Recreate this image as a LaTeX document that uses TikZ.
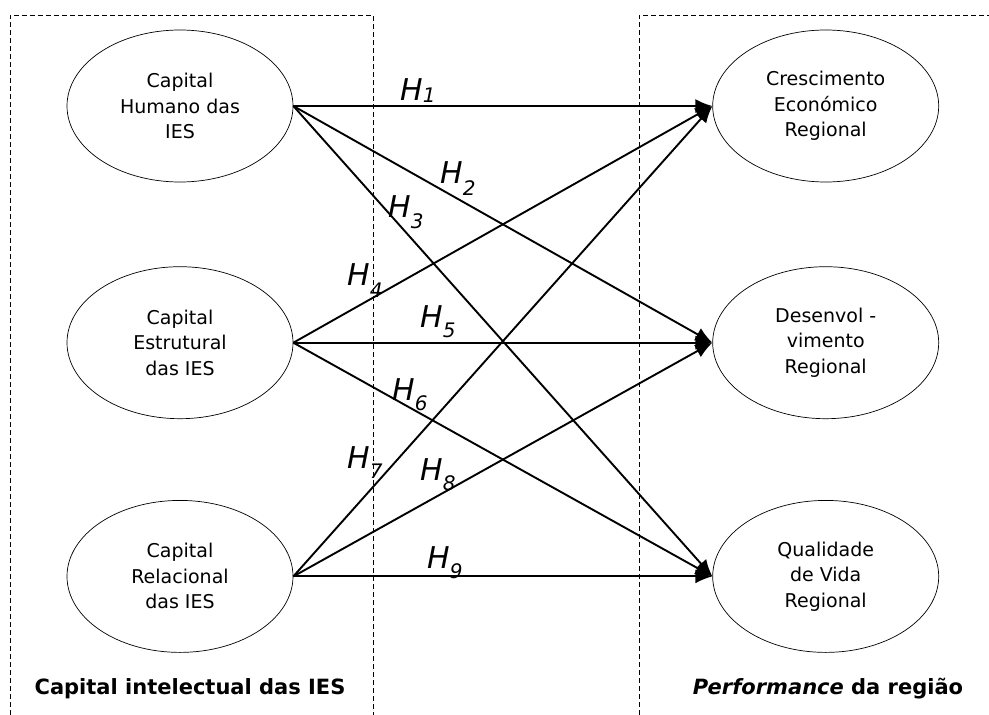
\documentclass[tikz,border=0pt]{standalone}
\usepackage{fontspec}
\setmainfont{DejaVu Sans}
\usetikzlibrary{positioning,arrows.meta,shapes.geometric}

% hypothesis label: H with a lowered index
\newcommand{\hyp}[2][10pt]{H\raisebox{-#1}{\fontsize{20}{20}\selectfont #2}}

\begin{document}
\begin{tikzpicture}[x=1pt, y=-1pt,
  construct/.style={draw, ellipse, line width=0.7pt, minimum width=226pt,
                    minimum height=152pt, inner sep=0pt, align=center,
                    font=\fontsize{19}{25.5}\selectfont},
  hyparrow/.style={->, line width=1.9pt},
  hlabel/.style={anchor=base west, inner sep=0pt,
                 font=\fontsize{30}{30}\selectfont\itshape},
  region/.style={dash pattern=on 5pt off 3pt, line width=0.8pt},
  regionlabel/.style={inner sep=0pt, font=\fontsize{21}{21}\selectfont\bfseries},
  >={Latex[length=17pt,width=14pt]}
]
  \useasboundingbox (0,0) rectangle (989,715);

  % dashed frames
  \draw[region] (10,715) -- (10,15) -- (373,15) -- (373,715);
  \draw[region] (639,715) -- (639,15) -- (989,15);

  \node[construct] (human) at (180,106) {Capital\\Humano das\\IES};
  \node[construct, below=84pt of human]  (struct) {Capital\\Estrutural\\das IES};
  \node[construct, below=81pt of struct] (relat)  {Capital\\Relacional\\das IES};

  \node[construct, right=419pt of human]  (growth) {Crescimento\\Económico\\Regional};
  \node[construct, right=419pt of struct] (devel)  {Desenvol -\\vimento\\Regional};
  \node[construct, right=419pt of relat]  (life)   {Qualidade\\de Vida\\Regional};

  \foreach \s in {human,struct,relat}
    \foreach \t in {growth,devel,life}
      \draw[hyparrow] (\s.east) -- (\t.west);

  \node[hlabel] (h1) at (400,100) {\hyp[2pt]{1}};
  \node[hlabel] (h2) at (440,183) {\hyp[12pt]{2}};
  \node[hlabel] (h3) at (388,217) {\hyp[11pt]{3}};
  \node[hlabel] (h4) at (347,285) {\hyp[12pt]{4}};
  \node[hlabel] (h5) at (420,327) {\hyp{5}};
  \node[hlabel] (h6) at (392,400) {\hyp{6}};
  \node[hlabel] (h7) at (347,468) {\hyp{7}};
  \node[hlabel] (h8) at (420,480) {\hyp{8}};
  \node[hlabel] (h9) at (427,568) {\hyp{9}};

  \node[regionlabel] (left)  at (190,689) {Capital intelectual das IES};
  \node[regionlabel] (right) at (828,689) {\itshape Performance\upshape{} da região};
\end{tikzpicture}
\end{document}
